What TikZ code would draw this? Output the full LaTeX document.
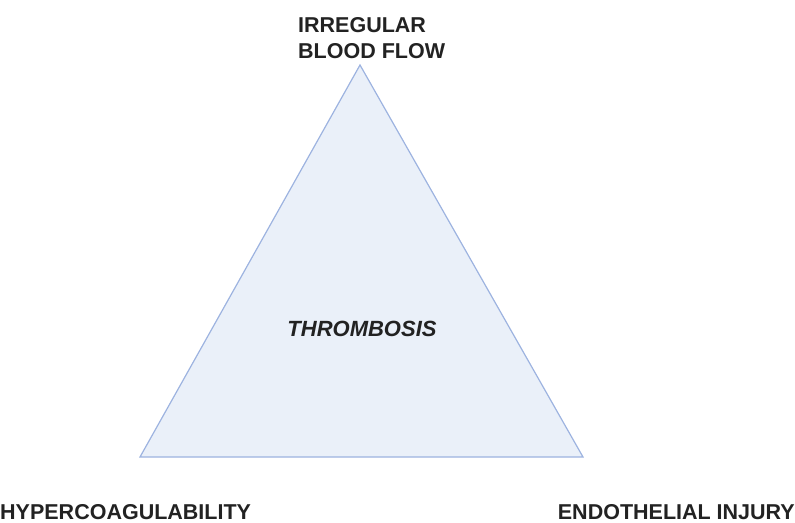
\documentclass[tikz,border=0pt]{standalone}
\usepackage{fontspec}
\setmainfont{Liberation Sans}
\definecolor{trifill}{HTML}{EAF0F9}
\definecolor{triline}{HTML}{9DB3E0}
\definecolor{txt}{HTML}{222222}
\begin{document}
\begin{tikzpicture}[x=1pt,y=-1pt,
  lbl/.style={inner sep=0pt, font=\fontsize{21.5}{26}\selectfont\bfseries, text=txt},
  center/.style={inner sep=0pt, font=\fontsize{22}{26}\selectfont\bfseries\itshape, text=txt}]
\useasboundingbox (0,0) rectangle (795,522);
\coordinate (top) at (360,65);
\coordinate (bl) at (140,457);
\coordinate (br) at (583,457);
\draw[triline, fill=trifill, line width=1.2pt, line join=miter] (top) -- (bl) -- (br) -- cycle;
\node[lbl, anchor=base west] (flowa) at (298,32) {IRREGULAR};
\node[lbl, anchor=base west] (flowb) at (298,58) {BLOOD FLOW};
\node[lbl, anchor=base west] (hyper) at (0,519) {HYPERCOAGULABILITY};
\node[lbl, anchor=base east] (endo) at (795,519) {ENDOTHELIAL INJURY};
\node[center, anchor=base] (thromb) at (362,336) {THROMBOSIS};
\end{tikzpicture}
\end{document}
